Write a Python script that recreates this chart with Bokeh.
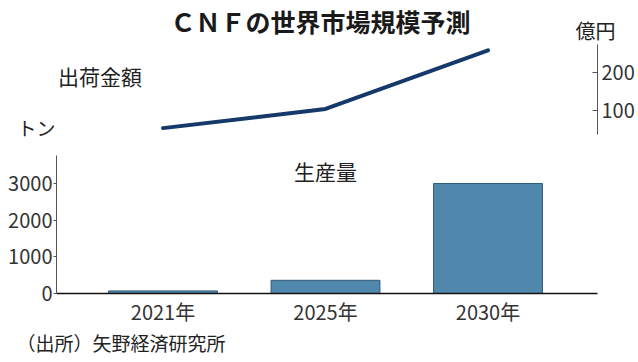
from bokeh.plotting import figure
from bokeh.models import (Range1d, LinearAxis, FixedTicker, Label, ColumnDataSource)
from bokeh.embed import file_html
from bokeh.resources import INLINE

# ---- data ----
years = ["2021年", "2025年", "2030年"]
year_pos = [1, 2, 3]
production_t = [70, 360, 3000]        # 生産量 (トン)
shipment_oku = [54, 104, 257]         # 出荷金額 (億円)
prod_ticks = [0, 1000, 2000, 3000]
amt_ticks = [100, 200]

title_text = "ＣＮＦの世界市場規模予測"
source_text = "（出所）矢野経済研究所"

NUM_FONT = "'Liberation Sans Narrow', 'Noto Sans CJK JP', sans-serif"
JP_FONT = "Noto Sans CJK JP"

# ---- geometry helpers (page px -> data) ----
MARGIN = 0
W, H = 638, 362
X_UNIT = 162.5          # px per category step
BASE_Y = 293.0          # px of production 0
PX_PER_T = 36.667 / 1000.0
AMT_Y100 = 110.0        # px of 100 億円
PX_PER_OKU = 0.383


def px(X):
    return X / X_UNIT


def py(Y):
    return (BASE_Y - Y) / PX_PER_T


def pa(Y):
    return 100 + (AMT_Y100 - Y) / PX_PER_OKU


p = figure(width=W, height=H, output_backend="svg", toolbar_location=None,
           min_border=0, title=None,
           x_range=Range1d(px(MARGIN), px(MARGIN + W)),
           y_range=Range1d(py(MARGIN + H), py(MARGIN)),
           x_axis_type=None, y_axis_type=None)
p.outline_line_color = None
p.background_fill_color = "white"
p.border_fill_color = "white"
p.xgrid.visible = False
p.ygrid.visible = False

p.extra_y_ranges = {"amt": Range1d(pa(MARGIN + H), pa(MARGIN))}

src = ColumnDataSource(dict(x=year_pos, prod=production_t, amt=shipment_oku))

p.vbar(x="x", top="prod", width=0.67, source=src,
       fill_color="#4f87ad", line_color="#2f5a78", line_width=1)

p.line(x="x", y="amt", source=src, y_range_name="amt",
       line_color="#16396b", line_width=4, line_cap="round", line_join="round")

# left axis (production)
la = LinearAxis(ticker=FixedTicker(ticks=prod_ticks), bounds=(0, py(155)),
                fixed_location=px(56))
la.axis_line_color = "#555555"
la.axis_line_width = 1
la.major_tick_out = 3
la.major_tick_in = 0
la.major_tick_line_color = "#555555"
la.minor_tick_line_color = None
la.major_label_standoff = 1
la.major_label_text_font = NUM_FONT
la.major_label_text_font_size = "20px"
la.major_label_text_color = "#333333"
p.add_layout(la, "left")

# right axis (amount)
ra = LinearAxis(y_range_name="amt", ticker=FixedTicker(ticks=amt_ticks),
                bounds=(pa(134.3), pa(44.3)), fixed_location=px(597))
ra.axis_line_color = "#555555"
ra.major_tick_out = 0
ra.major_tick_in = 5
ra.major_tick_line_color = "#555555"
ra.minor_tick_line_color = None
ra.major_label_standoff = 4
ra.major_label_text_font = NUM_FONT
ra.major_label_text_font_size = "20px"
ra.major_label_text_color = "#333333"
p.add_layout(ra, "right")

# bottom axis (years)
ba = LinearAxis(ticker=FixedTicker(ticks=year_pos),
                major_label_overrides={k: v for k, v in zip(year_pos, years)},
                bounds=(px(56), px(597)), fixed_location=0)
ba.axis_line_color = "#111111"
ba.axis_line_width = 1.5
ba.major_tick_line_color = None
ba.major_tick_out = 0
ba.major_tick_in = 0
ba.minor_tick_line_color = None
ba.major_label_standoff = 3
ba.major_label_text_font = NUM_FONT
ba.major_label_text_font_size = "20px"
ba.major_label_text_color = "#333333"
p.add_layout(ba, "below")


def add_text(txt, X, Y, size, bold=False, align="center", font=JP_FONT, color="#222222"):
    p.add_layout(Label(x=px(X), y=py(Y), text=txt, text_font=font,
                       text_font_size=size, text_align=align,
                       text_baseline="middle", text_color=color,
                       text_font_style="bold" if bold else "normal"))


add_text(title_text, 320, 20, "25px", bold=True, color="#1a1a1a")
add_text("出荷金額", 99.5, 75, "21px")
add_text("トン", 36, 127, "19px")
add_text("億円", 595, 30, "20px")
add_text("生産量", 325, 170.5, "21px")
add_text(source_text, 16, 342, "19px", align="left")

open("out.html", "w").write(file_html(p, INLINE))
